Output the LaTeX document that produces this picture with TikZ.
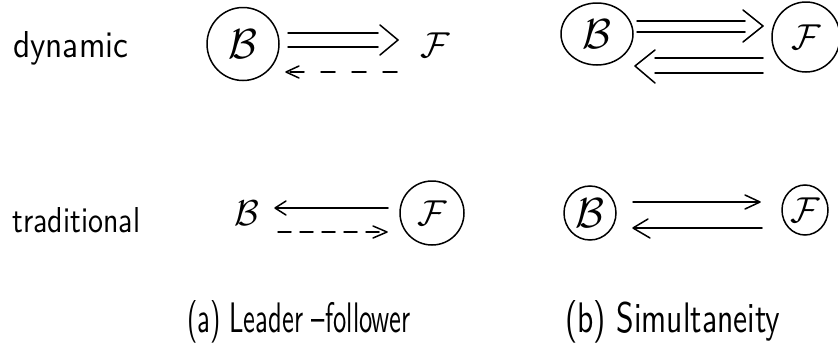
\RequirePackage{fix-cm}
\documentclass[tikz,border=0pt]{standalone}
\usepackage{graphicx}
\usetikzlibrary{shapes.geometric}
\begin{document}
\begin{tikzpicture}[x=1pt,y=-1pt,
  pen/.style={line width=1.5pt, line cap=round, line join=round},
  dashline/.style={pen, dash pattern=on 14pt off 17pt},
  dashline2/.style={pen, dash pattern=on 13pt off 9pt},
  agent/.style={ellipse, draw, line width=1.5pt, inner sep=0pt},
  letter/.style={font=\fontsize{42}{42}\selectfont},
  smallletter/.style={font=\fontsize{36}{36}\selectfont},
  lab/.style={anchor=base west, inner sep=0pt, font=\sffamily}]
\useasboundingbox (0,0) rectangle (838,359);

% row labels
\node[lab] (dyn) at (13,57) {\resizebox{115pt}{26pt}{dynamic}};
\node[lab] (trad) at (12,232) {\resizebox{128pt}{25pt}{traditional}};

% captions
\node[lab] (capa) at (187,332) {\resizebox{223pt}{32pt}{(a) Leader --follower}};
\node[lab] (capb) at (565,332) {\resizebox{215pt}{32pt}{(b) Simultaneity}};

% agents
\node[agent, letter, minimum width=72pt, minimum height=73pt] (B1) at (243,44) {$\mathcal{B}$};
\node[smallletter] (F1) at (435,45) {$\mathcal{F}$};
\node[agent, letter, minimum width=72pt, minimum height=62pt] (B2) at (597,34) {$\mathcal{B}$};
\node[agent, smallletter, minimum width=68pt, minimum height=70pt] (F2) at (806,37) {$\mathcal{F}$};
\node[smallletter] (B3) at (247,213) {$\mathcal{B}$};
\node[agent, smallletter, minimum width=64pt, minimum height=64pt] (F3) at (432,213) {$\mathcal{F}$};
\node[agent, letter, minimum width=52pt, minimum height=54pt] (B4) at (590,213) {$\mathcal{B}$};
\node[agent, smallletter, minimum width=46pt, minimum height=50pt] (F4) at (805,210) {$\mathcal{F}$};

% dynamic, leader-follower
\draw[pen] (288,33) -- (378,33);
\draw[pen] (288,47) -- (378,47);
\draw[pen] (380,25) -- (398,40) -- (380,55);
\draw[dashline] (397,72) -- (287,72);
\draw[pen] (299,66) -- (286,72) -- (299,78);

% dynamic, simultaneity
\draw[pen] (637,21) -- (745,21);
\draw[pen] (637,32) -- (745,32);
\draw[pen] (743,10) -- (763,26) -- (743,42);
\draw[pen] (655,58) -- (763,58);
\draw[pen] (655,73) -- (763,73);
\draw[pen] (655,50) -- (635,66) -- (655,83);

% traditional, leader-follower
\draw[pen] (388,208) -- (276,208);
\draw[pen] (286,201) -- (275,208) -- (286,215);
\draw[dashline2] (278,232) -- (385,232);
\draw[pen] (373,226) -- (387,232) -- (373,238);

% traditional, simultaneity
\draw[pen] (633,202) -- (759,202);
\draw[pen] (745,195) -- (760,202) -- (745,209);
\draw[pen] (762,228) -- (634,228);
\draw[pen] (648,219) -- (633,228) -- (650,238);
\end{tikzpicture}
\end{document}
